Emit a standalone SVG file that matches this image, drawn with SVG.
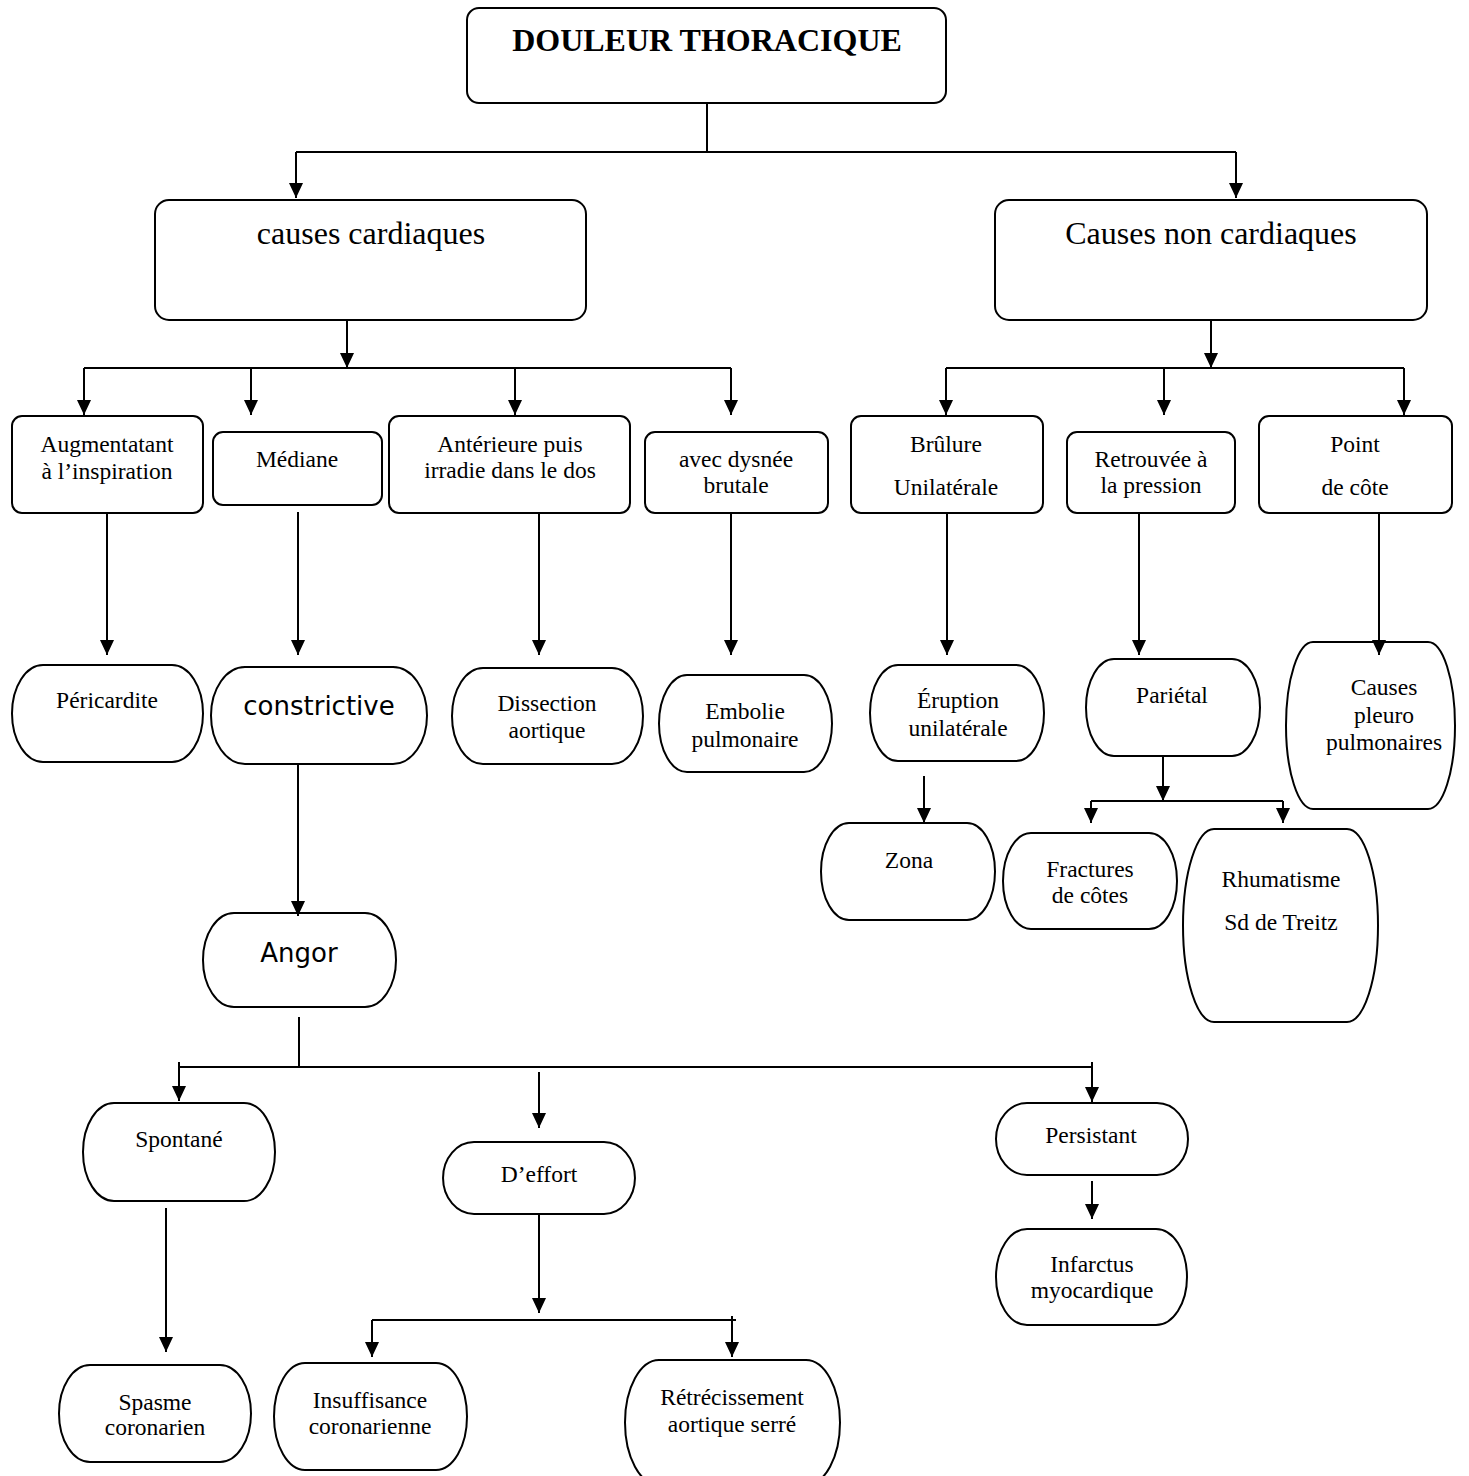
<svg xmlns="http://www.w3.org/2000/svg" width="1469" height="1476" viewBox="0 0 1469 1476">
<style>
.box{fill:#fff;stroke:#000;stroke-width:2}
.t{font-family:"Liberation Serif","Times New Roman",serif;font-size:23.5px;fill:#000;text-anchor:middle}
.big{font-size:32px}
.title{font-size:32px;font-weight:bold}
.s{font-family:"DejaVu Sans",sans-serif;font-size:26px;fill:#000;text-anchor:middle}
.c{fill:none;stroke:#000;stroke-width:2}
.a{fill:none;stroke:#000;stroke-width:2;marker-end:url(#ah)}
</style>
<defs>
<marker id="ah" markerUnits="userSpaceOnUse" viewBox="0 0 15 14" markerWidth="15" markerHeight="14" refX="15" refY="7" orient="auto">
<path d="M0,0 L15,7 L0,14 z" fill="#000"/>
</marker>
</defs>
<rect width="1469" height="1476" fill="#fff"/>

<g id="n-douleur"><rect class="box" x="467" y="8" width="479" height="95" rx="12"/><text class="t title" x="707" y="51">DOULEUR THORACIQUE</text></g>
<g id="n-cardiaques"><rect class="box" x="155" y="200" width="431" height="120" rx="14"/><text class="t big" x="371" y="244">causes cardiaques</text></g>
<g id="n-noncardiaques"><rect class="box" x="995" y="200" width="432" height="120" rx="14"/><text class="t big" x="1211" y="244">Causes non cardiaques</text></g>

<g id="n-augmentatant"><rect class="box" x="12" y="416" width="191" height="97" rx="10"/><text class="t" x="107" y="452">Augmentatant</text><text class="t" x="107" y="479">à l’inspiration</text></g>
<g id="n-mediane"><rect class="box" x="213" y="432" width="169" height="73" rx="10"/><text class="t" x="297" y="467">Médiane</text></g>
<g id="n-anterieure"><rect class="box" x="389" y="416" width="241" height="97" rx="10"/><text class="t" x="510" y="452">Antérieure puis</text><text class="t" x="510" y="478">irradie dans le dos</text></g>
<g id="n-dysnee"><rect class="box" x="645" y="432" width="183" height="81" rx="10"/><text class="t" x="736" y="467">avec dysnée</text><text class="t" x="736" y="493">brutale</text></g>
<g id="n-brulure"><rect class="box" x="851" y="416" width="192" height="97" rx="10"/><text class="t" x="946" y="452">Brûlure</text><text class="t" x="946" y="495">Unilatérale</text></g>
<g id="n-retrouvee"><rect class="box" x="1067" y="432" width="168" height="81" rx="10"/><text class="t" x="1151" y="467">Retrouvée à</text><text class="t" x="1151" y="493">la pression</text></g>
<g id="n-point"><rect class="box" x="1259" y="416" width="193" height="97" rx="10"/><text class="t" x="1355" y="452">Point</text><text class="t" x="1355" y="495">de côte</text></g>

<g id="n-pericardite"><path class="box" d="M43,665 H172 A31,48.5 0 0 1 172,762 H43 A31,48.5 0 0 1 43,665 Z"/><text class="t" x="107" y="708">Péricardite</text></g>
<g id="n-constrictive"><path class="box" d="M245,667 H393 A34,48.5 0 0 1 393,764 H245 A34,48.5 0 0 1 245,667 Z"/><text class="s" x="319" y="715">constrictive</text></g>
<g id="n-dissection"><path class="box" d="M483,668 H612 A31,48 0 0 1 612,764 H483 A31,48 0 0 1 483,668 Z"/><text class="t" x="547" y="711">Dissection</text><text class="t" x="547" y="738">aortique</text></g>
<g id="n-embolie"><path class="box" d="M687,675 H804 A28,48.5 0 0 1 804,772 H687 A28,48.5 0 0 1 687,675 Z"/><text class="t" x="745" y="719">Embolie</text><text class="t" x="745" y="747">pulmonaire</text></g>
<g id="n-eruption"><path class="box" d="M898,665 H1016 A28,48 0 0 1 1016,761 H898 A28,48 0 0 1 898,665 Z"/><text class="t" x="958" y="708">Éruption</text><text class="t" x="958" y="736">unilatérale</text></g>
<g id="n-parietal"><path class="box" d="M1114,659 H1232 A28,48.5 0 0 1 1232,756 H1114 A28,48.5 0 0 1 1114,659 Z"/><text class="t" x="1172" y="703">Pariétal</text></g>
<g id="n-pleuro"><path class="box" d="M1313,642 H1428 A27,83.5 0 0 1 1428,809 H1313 A27,83.5 0 0 1 1313,642 Z"/><text class="t" x="1384" y="695">Causes</text><text class="t" x="1384" y="723">pleuro</text><text class="t" x="1384" y="750">pulmonaires</text></g>
<g id="n-zona"><path class="box" d="M849,823 H967 A28,48.5 0 0 1 967,920 H849 A28,48.5 0 0 1 849,823 Z"/><text class="t" x="909" y="868">Zona</text></g>
<g id="n-fractures"><path class="box" d="M1031,833 H1149 A28,48 0 0 1 1149,929 H1031 A28,48 0 0 1 1031,833 Z"/><text class="t" x="1090" y="877">Fractures</text><text class="t" x="1090" y="903">de côtes</text></g>
<g id="n-rhumatisme"><path class="box" d="M1214,829 H1347 A31,96.5 0 0 1 1347,1022 H1214 A31,96.5 0 0 1 1214,829 Z"/><text class="t" x="1281" y="887">Rhumatisme</text><text class="t" x="1281" y="930">Sd de Treitz</text></g>
<g id="n-angor"><path class="box" d="M234,913 H365 A31,47 0 0 1 365,1007 H234 A31,47 0 0 1 234,913 Z"/><text class="s" x="299" y="962">Angor</text></g>
<g id="n-spontane"><path class="box" d="M114,1103 H244 A31,49 0 0 1 244,1201 H114 A31,49 0 0 1 114,1103 Z"/><text class="t" x="179" y="1147">Spontané</text></g>
<g id="n-effort"><path class="box" d="M474,1142 H604 A31,36 0 0 1 604,1214 H474 A31,36 0 0 1 474,1142 Z"/><text class="t" x="539" y="1182">D’effort</text></g>
<g id="n-persistant"><path class="box" d="M1027,1103 H1157 A31,36 0 0 1 1157,1175 H1027 A31,36 0 0 1 1027,1103 Z"/><text class="t" x="1091" y="1143">Persistant</text></g>
<g id="n-infarctus"><path class="box" d="M1027,1229 H1156 A31,48 0 0 1 1156,1325 H1027 A31,48 0 0 1 1027,1229 Z"/><text class="t" x="1092" y="1272">Infarctus</text><text class="t" x="1092" y="1298">myocardique</text></g>
<g id="n-spasme"><path class="box" d="M90,1365 H220 A31,48.5 0 0 1 220,1462 H90 A31,48.5 0 0 1 90,1365 Z"/><text class="t" x="155" y="1410">Spasme</text><text class="t" x="155" y="1435">coronarien</text></g>
<g id="n-insuffisance"><path class="box" d="M305,1363 H436 A31,53.5 0 0 1 436,1470 H305 A31,53.5 0 0 1 305,1363 Z"/><text class="t" x="370" y="1408">Insuffisance</text><text class="t" x="370" y="1434">coronarienne</text></g>
<g id="n-retrecissement"><path class="box" d="M659,1360 H806 A34,62.5 0 0 1 806,1485 H659 A34,62.5 0 0 1 659,1360 Z"/><text class="t" x="732" y="1405">Rétrécissement</text><text class="t" x="732" y="1432">aortique serré</text></g>

<g id="connectors">
<path class="c" d="M707,103 V152 M296,152 H1236"/>
<path class="a" d="M296,152 V198"/>
<path class="a" d="M1236,152 V198"/>
<path class="a" d="M347,320 V368"/>
<path class="c" d="M84,368 H731"/>
<path class="a" d="M84,368 V415"/>
<path class="a" d="M251,368 V415"/>
<path class="a" d="M515,368 V415"/>
<path class="a" d="M731,368 V415"/>
<path class="a" d="M1211,320 V368"/>
<path class="c" d="M946,368 H1404"/>
<path class="a" d="M946,368 V415"/>
<path class="a" d="M1164,368 V415"/>
<path class="a" d="M1404,368 V415"/>
<path class="a" d="M107,513 V655"/>
<path class="a" d="M298,512 V655"/>
<path class="a" d="M539,513 V655"/>
<path class="a" d="M731,513 V655"/>
<path class="a" d="M947,513 V655"/>
<path class="a" d="M1139,513 V655"/>
<path class="a" d="M1379,513 V655"/>
<path class="a" d="M924,776 V823"/>
<path class="a" d="M1163,756 V801"/>
<path class="c" d="M1091,801 H1283"/>
<path class="a" d="M1091,801 V823"/>
<path class="a" d="M1283,801 V823"/>
<path class="a" d="M298,764 V916"/>
<path class="c" d="M299,1017 V1067 M179,1067 H1092"/>
<path class="a" d="M179,1062 V1101"/>
<path class="a" d="M1092,1062 V1102"/>
<path class="a" d="M539,1072 V1128"/>
<path class="a" d="M1092,1181 V1219"/>
<path class="a" d="M166,1208 V1352"/>
<path class="a" d="M539,1214 V1313"/>
<path class="c" d="M372,1320 H736"/>
<path class="a" d="M372,1320 V1357"/>
<path class="a" d="M732,1316 V1357"/>
</g>
</svg>
